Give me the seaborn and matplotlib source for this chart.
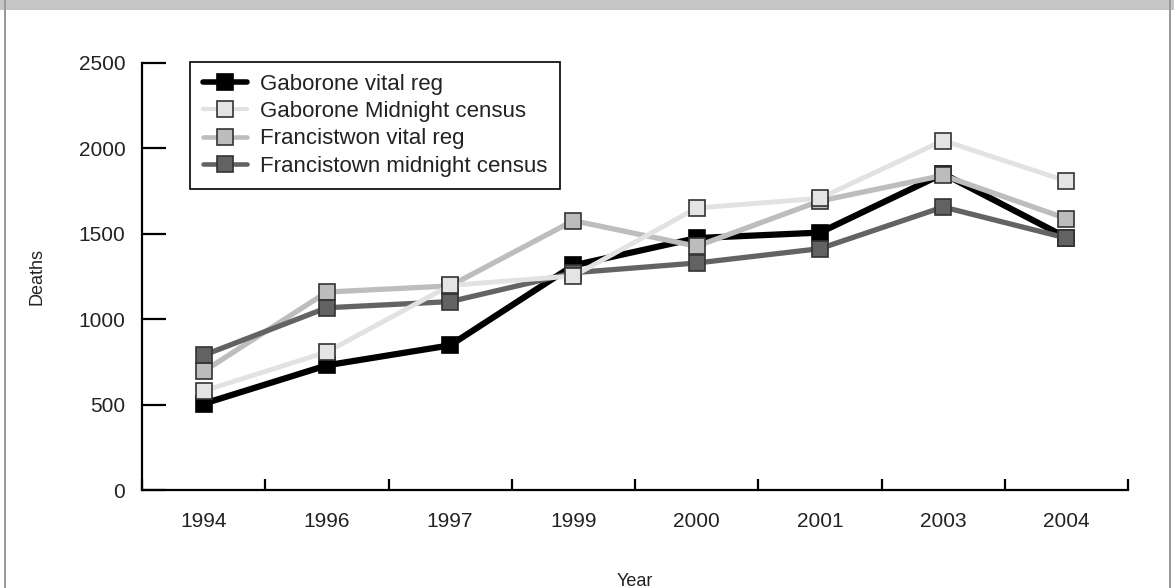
import numpy as np
import pandas as pd
import matplotlib
matplotlib.use("Agg")
import matplotlib.pyplot as plt
from matplotlib.patches import Rectangle
from matplotlib.lines import Line2D
import seaborn as sns

years = ["1994", "1996", "1997", "1999", "2000", "2001", "2003", "2004"]
gaborone_vital = [505, 730, 847, 1315, 1475, 1507, 1852, 1478]
gaborone_census = [580, 808, 1198, 1253, 1651, 1708, 2046, 1809]
francistown_vital = [695, 1159, 1195, 1577, 1427, 1692, 1842, 1589]
francistown_census = [789, 1067, 1103, 1272, 1329, 1413, 1657, 1475]

series_names = ["Gaborone vital reg", "Gaborone Midnight census",
                "Francistwon vital reg", "Francistown midnight census"]
series_values = [gaborone_vital, gaborone_census, francistown_vital, francistown_census]

line_colors = ["#000000", "#e1e2e1", "#bdbdbd", "#636363"]
face_colors = ["#000000", "#e3e4e3", "#bcbcbc", "#626262"]
edge_colors = ["#000000", "#333333", "#333333", "#333333"]
line_widths = [4.5, 3.5, 3.8, 3.8]
draw_order = [1, 4, 2, 3]

sns.set_style("white")
plt.rcParams["font.family"] = ["Liberation Sans", "DejaVu Sans"]

fig = plt.figure(figsize=(11.74, 5.88), dpi=100)
ax = fig.add_axes([142 / 1174, 1 - 490 / 588, 986 / 1174, 427 / 588])

frames = []
for name, vals in zip(series_names, series_values):
    frames.append(pd.DataFrame({"pos": np.arange(len(years)), "Deaths": vals, "Series": name}))
df = pd.concat(frames, ignore_index=True)

for i, name in enumerate(series_names):
    sub = df[df["Series"] == name]
    sns.lineplot(data=sub, x="pos", y="Deaths", ax=ax, color=line_colors[i],
                 linewidth=line_widths[i], marker="s", markersize=11.5,
                 markerfacecolor=face_colors[i], markeredgecolor=edge_colors[i],
                 markeredgewidth=1.2, zorder=draw_order[i], sort=False, legend=False)

ax.set_xlim(-0.5, len(years) - 0.5)
ax.set_ylim(0, 2500)

# Category labels centered, tick marks at category boundaries
ax.set_xticks(np.arange(len(years)))
ax.set_xticklabels(years)
ax.set_xticks(np.arange(-0.5, len(years)), minor=True)
ax.tick_params(axis="x", which="major", bottom=False, length=0, pad=16, labelsize=15)
ax.tick_params(axis="x", which="minor", bottom=True, direction="in", length=8,
               width=1.6, color="#000000")
ax.set_yticks([0, 500, 1000, 1500, 2000, 2500])
ax.tick_params(axis="y", which="major", left=True, direction="in", length=17, width=1.6,
               pad=12, labelsize=15, color="#000000")
for lab in ax.get_xticklabels() + ax.get_yticklabels():
    lab.set_color("#222222")

for side in ["top", "right"]:
    ax.spines[side].set_visible(False)
for side in ["left", "bottom"]:
    ax.spines[side].set_linewidth(1.6)
    ax.spines[side].set_color("#000000")

ax.set_xlabel("Year", fontsize=13, color="#222222", labelpad=30)
ax.set_ylabel("Deaths", fontsize=13, color="#222222", labelpad=24)

handles = [Line2D([0], [0], color=line_colors[i], linewidth=line_widths[i] - 0.5,
                  marker="s", markersize=11.5, markerfacecolor=face_colors[i],
                  markeredgecolor=edge_colors[i], markeredgewidth=1.2)
           for i in range(len(series_names))]
leg = ax.legend(handles, series_names, loc="upper left", bbox_to_anchor=(0.049, 1.003),
                fontsize=16, frameon=True, fancybox=False, edgecolor="#000000",
                framealpha=1, handlelength=2.0, handletextpad=0.6, labelspacing=0.28,
                borderpad=0.55, borderaxespad=0)
leg.get_frame().set_linewidth(1.2)
for t in leg.get_texts():
    t.set_color("#222222")

# Grey band across the top and thin side borders
fig.patches.append(Rectangle((0, 1 - 10 / 588), 1, 10 / 588, transform=fig.transFigure,
                             facecolor="#c6c6c6", edgecolor="none", zorder=0))
fig.patches.append(Rectangle((4 / 1174, 0), 2 / 1174, 1, transform=fig.transFigure,
                             facecolor="#9a9a9a", edgecolor="none", zorder=0))
fig.patches.append(Rectangle((1169 / 1174, 0), 2 / 1174, 1, transform=fig.transFigure,
                             facecolor="#9a9a9a", edgecolor="none", zorder=0))

fig.savefig("out.png", dpi=100)
